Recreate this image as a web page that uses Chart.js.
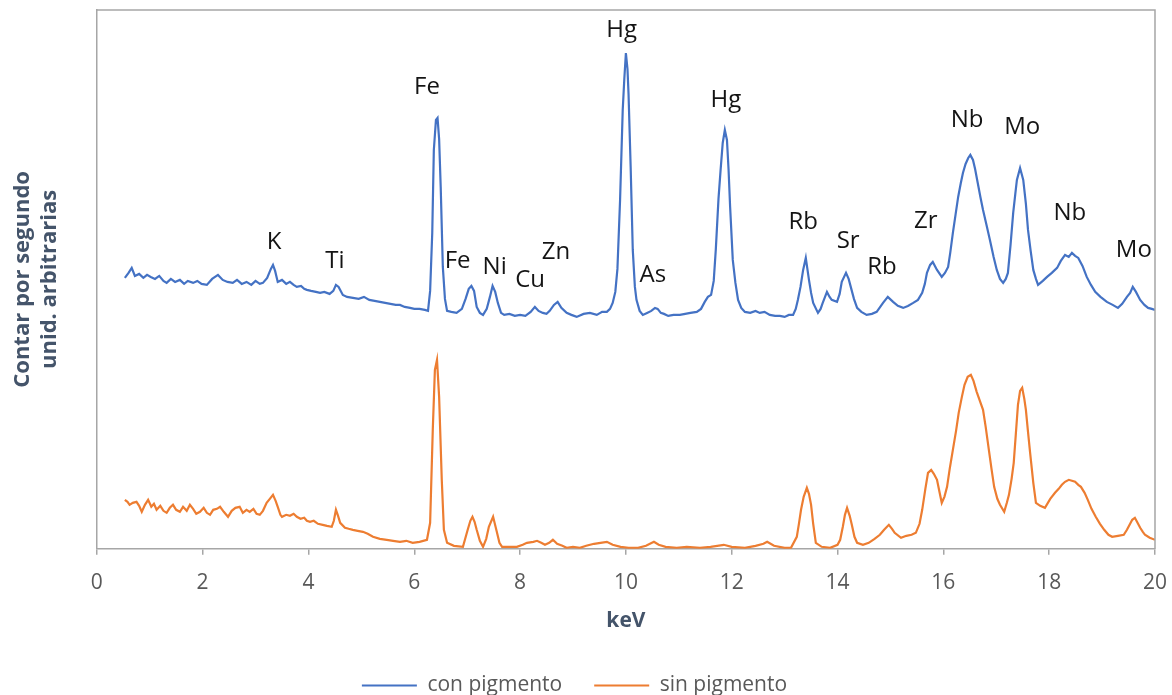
<!DOCTYPE html>
<html>
<head>
<meta charset="utf-8">
<script src="https://cdn.jsdelivr.net/npm/chart.js@4.4.1/dist/chart.umd.min.js"></script>
<style>
html,body{margin:0;padding:0;background:#fff;}
#wrap{width:1172px;height:695px;position:relative;}
</style>
</head>
<body>
<div id="wrap"><canvas id="c"></canvas></div>
<script>
// [keV, counts (arbitrary units)]
const conPigmento = [[0.53,271],[0.60,276],[0.66,281],[0.72,273],[0.80,275],[0.88,271],[0.95,274],[1.02,272],[1.10,270],[1.18,273],[1.26,268],[1.32,266],[1.40,270],[1.48,267],[1.57,269],[1.65,265],[1.72,268],[1.82,266],[1.90,268],[1.98,265],[2.08,264],[2.18,270],[2.29,274],[2.38,269],[2.47,267],[2.57,266],[2.65,269],[2.74,265],[2.83,267],[2.92,264],[3.00,268],[3.08,265],[3.14,266],[3.22,271],[3.29,280],[3.33,284],[3.37,278],[3.42,267],[3.50,269],[3.58,265],[3.65,267],[3.72,264],[3.78,262],[3.86,263],[3.92,260],[3.97,259],[4.05,258],[4.14,257],[4.22,256],[4.30,257],[4.40,255],[4.47,258],[4.52,264],[4.57,262],[4.65,254],[4.73,252],[4.84,251],[4.95,250],[5.05,252],[5.15,249],[5.25,248],[5.35,247],[5.45,246],[5.55,245],[5.65,244],[5.73,244],[5.82,242],[5.92,241],[6.00,240],[6.10,240],[6.20,239],[6.26,238],[6.30,258],[6.34,316],[6.37,399],[6.41,429],[6.44,431],[6.47,410],[6.50,362],[6.54,282],[6.58,250],[6.62,238],[6.70,237],[6.80,236],[6.90,240],[6.97,250],[7.03,260],[7.08,263],[7.13,258],[7.18,242],[7.24,236],[7.30,234],[7.37,240],[7.43,252],[7.48,263],[7.53,257],[7.58,246],[7.64,236],[7.70,234],[7.80,235],[7.90,233],[8.00,234],[8.10,233],[8.20,237],[8.28,242],[8.35,238],[8.43,236],[8.50,235],[8.56,238],[8.64,244],[8.71,247],[8.78,241],[8.88,236],[8.97,234],[9.07,232],[9.20,235],[9.32,236],[9.45,234],[9.55,237],[9.64,237],[9.70,240],[9.75,246],[9.80,257],[9.84,280],[9.89,349],[9.94,439],[9.97,470],[10.00,496],[10.03,480],[10.05,455],[10.09,382],[10.13,299],[10.17,262],[10.20,249],[10.26,238],[10.32,234],[10.40,236],[10.48,238],[10.55,241],[10.60,240],[10.66,236],[10.72,235],[10.80,233],[10.90,234],[11.02,234],[11.12,235],[11.22,236],[11.34,237],[11.42,240],[11.49,247],[11.55,252],[11.61,254],[11.66,268],[11.70,300],[11.75,350],[11.79,379],[11.83,406],[11.87,419],[11.91,409],[11.94,380],[11.97,342],[12.02,289],[12.07,266],[12.12,249],[12.18,241],[12.25,237],[12.35,236],[12.45,238],[12.53,236],[12.62,237],[12.72,234],[12.82,233],[12.91,233],[13.00,232],[13.08,234],[13.16,234],[13.21,240],[13.25,249],[13.30,262],[13.35,279],[13.40,291],[13.46,269],[13.50,256],[13.54,246],[13.63,236],[13.68,240],[13.72,246],[13.80,257],[13.85,252],[13.89,249],[13.99,247],[14.04,255],[14.08,267],[14.16,276],[14.21,270],[14.25,262],[14.31,250],[14.37,241],[14.45,237],[14.55,234],[14.65,235],[14.74,237],[14.86,246],[14.95,252],[15.05,247],[15.14,243],[15.24,241],[15.33,243],[15.43,246],[15.52,249],[15.60,256],[15.65,265],[15.69,276],[15.75,284],[15.80,287],[15.88,279],[15.97,272],[16.03,276],[16.09,282],[16.13,296],[16.18,316],[16.23,334],[16.28,352],[16.33,366],[16.37,376],[16.42,385],[16.47,391],[16.51,394],[16.56,389],[16.60,380],[16.65,366],[16.70,352],[16.75,339],[16.82,323],[16.88,309],[16.95,292],[17.01,279],[17.07,270],[17.13,266],[17.18,270],[17.22,276],[17.27,304],[17.32,336],[17.36,355],[17.39,369],[17.45,381],[17.51,369],[17.56,345],[17.60,319],[17.65,298],[17.70,279],[17.75,270],[17.79,264],[17.88,268],[17.96,272],[18.05,276],[18.15,281],[18.22,288],[18.30,294],[18.37,292],[18.43,296],[18.49,293],[18.55,291],[18.63,283],[18.71,272],[18.79,264],[18.87,257],[18.97,252],[19.09,247],[19.20,244],[19.30,241],[19.38,245],[19.47,252],[19.53,256],[19.58,262],[19.64,257],[19.72,249],[19.80,244],[19.87,241],[19.94,240],[20.00,239]];

const sinPigmento = [[0.53,49],[0.58,47],[0.62,44],[0.68,46],[0.75,47],[0.80,43],[0.85,37],[0.91,44],[0.97,49],[1.03,42],[1.08,45],[1.13,39],[1.20,43],[1.26,38],[1.32,36],[1.38,41],[1.44,44],[1.50,39],[1.57,37],[1.63,42],[1.70,38],[1.76,44],[1.82,40],[1.88,35],[1.95,37],[2.02,41],[2.08,36],[2.14,34],[2.20,39],[2.27,40],[2.33,42],[2.40,37],[2.48,32],[2.55,38],[2.62,41],[2.70,42],[2.76,36],[2.83,39],[2.89,37],[2.96,40],[3.02,35],[3.08,34],[3.14,38],[3.21,46],[3.27,50],[3.33,54],[3.38,48],[3.42,42],[3.47,34],[3.50,32],[3.58,34],[3.65,33],[3.72,35],[3.78,32],[3.85,30],[3.92,31],[3.97,28],[4.03,27],[4.10,28],[4.18,25],[4.27,24],[4.35,23],[4.44,22],[4.48,28],[4.52,39],[4.56,33],[4.60,26],[4.69,21],[4.76,20],[4.84,19],[4.93,18],[5.03,17],[5.12,15],[5.22,12],[5.35,10],[5.48,9],[5.60,8],[5.73,7],[5.85,8],[5.97,6],[6.10,7],[6.24,9],[6.30,26],[6.35,119],[6.39,179],[6.43,189],[6.47,152],[6.52,69],[6.56,19],[6.62,6],[6.75,3],[6.92,2],[7.01,19],[7.06,28],[7.10,32],[7.14,27],[7.18,19],[7.24,8],[7.30,2],[7.36,10],[7.41,22],[7.49,32],[7.56,17],[7.61,6],[7.66,2],[7.80,2],[7.94,2],[8.05,4],[8.13,6],[8.25,7],[8.32,8],[8.40,6],[8.47,4],[8.55,6],[8.62,9],[8.70,5],[8.80,3],[8.88,1],[9.00,2],[9.13,1],[9.25,3],[9.40,5],[9.52,6],[9.64,7],[9.75,4],[9.90,2],[10.05,1],[10.23,1],[10.38,3],[10.53,7],[10.62,4],[10.75,2],[10.96,1],[11.15,2],[11.40,1],[11.60,2],[11.85,4],[12.00,2],[12.25,1],[12.45,3],[12.60,5],[12.67,7],[12.80,3],[13.00,1],[13.12,1],[13.23,12],[13.27,25],[13.31,39],[13.36,52],[13.42,61],[13.46,55],[13.50,44],[13.54,25],[13.59,6],[13.70,2],[13.86,1],[14.00,4],[14.05,9],[14.10,22],[14.14,34],[14.18,41],[14.23,33],[14.27,24],[14.32,12],[14.37,6],[14.48,4],[14.59,6],[14.70,10],[14.80,14],[14.88,19],[14.97,24],[15.03,20],[15.08,16],[15.20,11],[15.30,13],[15.40,14],[15.48,16],[15.55,25],[15.60,39],[15.66,60],[15.71,76],[15.77,79],[15.82,75],[15.88,69],[15.93,56],[15.97,46],[16.02,52],[16.07,62],[16.12,80],[16.18,99],[16.24,118],[16.29,136],[16.35,152],[16.40,164],[16.46,172],[16.52,174],[16.57,168],[16.63,157],[16.69,148],[16.75,139],[16.80,122],[16.86,99],[16.91,80],[16.96,62],[17.02,50],[17.07,44],[17.15,37],[17.20,46],[17.24,54],[17.29,70],[17.33,86],[17.37,115],[17.41,144],[17.45,158],[17.49,161],[17.53,150],[17.56,139],[17.60,117],[17.64,96],[17.70,66],[17.75,46],[17.83,43],[17.92,41],[18.02,50],[18.11,56],[18.18,60],[18.24,64],[18.30,67],[18.37,69],[18.43,68],[18.49,67],[18.55,64],[18.60,62],[18.67,56],[18.73,49],[18.80,40],[18.88,32],[18.96,25],[19.04,19],[19.12,14],[19.19,12],[19.30,13],[19.41,14],[19.47,19],[19.52,24],[19.57,29],[19.62,31],[19.67,26],[19.72,21],[19.77,17],[19.81,14],[19.90,11],[20.00,9]];

// peak annotations: element, keV, height (baseline of label)
const peakNames = ['K','Ti','Fe','Fe','Ni','Cu','Zn','Hg','As','Hg','Rb','Sr','Rb','Zr','Nb','Mo','Nb','Mo'];
const peakKeV   = [3.35,4.50,6.24,6.82,7.52,8.19,8.68,9.92,10.51,11.89,13.35,14.20,14.84,15.67,16.45,17.49,18.39,19.60];
const peakLabelY= [300,281,455,281,275,262,290,512,267,442,320,301,275,321,422,415,329,292];

const seriesNames = ['con pigmento','sin pigmento'];
const xTicksStep = 2;

const toXY = arr => arr.map(p => ({x: p[0], y: p[1]}));

const framePlugin = {
  id: 'frame',
  afterDraw(chart) {
    const {ctx, chartArea: a} = chart;
    ctx.save();
    ctx.strokeStyle = '#a6a6a6';
    ctx.lineWidth = 1.5;
    ctx.beginPath();
    ctx.moveTo(a.left, a.top);
    ctx.lineTo(a.right, a.top);
    ctx.lineTo(a.right, a.bottom);
    ctx.stroke();
    ctx.restore();
  }
};

const peakLabelPlugin = {
  id: 'peakLabels',
  afterDatasetsDraw(chart) {
    const {ctx} = chart;
    const xs = chart.scales.x, ys = chart.scales.y;
    ctx.save();
    ctx.font = '24px "Open Sans"';
    ctx.fillStyle = '#141414';
    ctx.textAlign = 'center';
    ctx.textBaseline = 'alphabetic';
    peakNames.forEach((n, i) => {
      ctx.fillText(n, xs.getPixelForValue(peakKeV[i]), ys.getPixelForValue(peakLabelY[i]));
    });
    ctx.restore();
  }
};

const legendShift = {
  id: 'legendShift',
  afterLayout(chart) {
    const lg = chart.legend;
    if (!lg) return;
    lg.left -= 3; lg.right -= 3;
    lg.top += 11; lg.bottom += 11;
  }
};

Chart.defaults.font.family = '"Open Sans", sans-serif';

new Chart(document.getElementById('c'), {
  type: 'line',
  data: {
    datasets: [
      {label: seriesNames[0], data: toXY(conPigmento), borderColor: '#4472c4', backgroundColor: '#4472c4', borderWidth: 2.2, pointRadius: 0, tension: 0, fill: false},
      {label: seriesNames[1], data: toXY(sinPigmento), borderColor: '#ed7d31', backgroundColor: '#ed7d31', borderWidth: 2.2, pointRadius: 0, tension: 0, fill: false}
    ]
  },
  options: {
    animation: false,
    responsive: true,
    maintainAspectRatio: false,
    events: [],
    layout: {padding: {top: 10, right: 17, bottom: 0, left: 0}},
    scales: {
      x: {
        type: 'linear', min: 0, max: 20,
        ticks: {stepSize: xTicksStep, color: '#595959', font: {size: 21, lineHeight: 2.2}, padding: 5},
        grid: {display: true, drawOnChartArea: false, drawTicks: true, tickLength: 6, color: '#a6a6a6', lineWidth: 1.5},
        border: {display: true, color: '#a6a6a6', width: 1.5},
        title: {display: true, text: 'keV', color: '#44546a', font: {size: 21, weight: 'bold', lineHeight: 1.0}, padding: {top: 0, bottom: 0}}
      },
      y: {
        min: 0, max: 539,
        ticks: {display: false},
        grid: {display: false, drawTicks: false},
        border: {display: true, color: '#a6a6a6', width: 1.5},
        title: {display: true, text: ['Contar por segundo', 'unid. arbitrarias'], color: '#44546a', font: {size: 22, weight: 'bold', lineHeight: 1.2}, padding: {top: 10, bottom: 34}}
      }
    },
    plugins: {
      legend: {
        position: 'bottom',
        labels: {usePointStyle: true, pointStyle: 'line', pointStyleWidth: 55, font: {size: 21}, color: '#595959', padding: 32}
      },
      tooltip: {enabled: false}
    }
  },
  plugins: [framePlugin, peakLabelPlugin, legendShift]
});
</script>
</body>
</html>
